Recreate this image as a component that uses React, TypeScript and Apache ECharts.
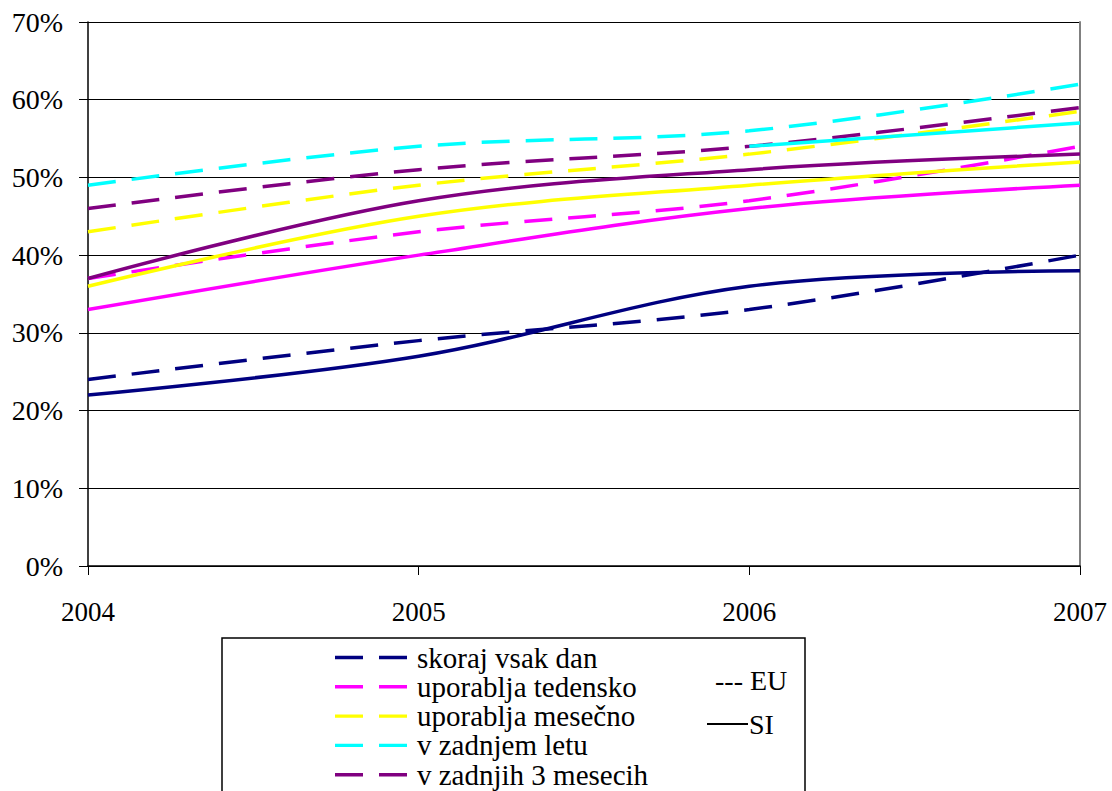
import React, { useEffect, useRef } from "react";
import * as echarts from "echarts";

const years = [2004, 2005, 2006, 2007];
const categoryNames = [
  "skoraj vsak dan",
  "uporablja tedensko",
  "uporablja mesečno",
  "v zadnjem letu",
  "v zadnjih 3 mesecih",
];
const colors = ["#000080", "#FF00FF", "#FFFF00", "#00FFFF", "#800080"];

// EU (dashed)
const euDaily = [24, 29, 33, 40];
const euWeekly = [37, 43, 47, 54];
const euMonthly = [43, 49, 53, 58.5];
const euLastYear = [49, 54, 56, 62];
const euLast3Months = [46, 51, 54, 59];

// SI (solid)
const siDaily = [22, 27, 36, 38];
const siWeekly = [33, 40, 46, 49];
const siMonthly = [36, 45, 49, 52];
const siLastYear: (number | null)[] = [null, null, 54, 57];
const siLast3Months = [37, 47, 51, 53];

const yMin = 0;
const yMax = 70;
const yStep = 10;

const euValues = [euDaily, euWeekly, euMonthly, euLastYear, euLast3Months];
const siValues = [siDaily, siWeekly, siMonthly, siLastYear, siLast3Months];

const FONT = "Liberation Serif";
const DASHED_ICON = "path://M0,0h28v3.4h-28zM44,0h28v3.4h-28z";
const SOLID_ICON = "path://M0,0h72v3.4h-72z";

function toPairs(vals: (number | null)[]) {
  const out: [number, number][] = [];
  vals.forEach((v, i) => {
    if (v !== null && v !== undefined) out.push([years[i], v]);
  });
  return out;
}

export default function App() {
  const ref = useRef<HTMLDivElement>(null);
  useEffect(() => {
    if (!ref.current) return;
    const chart = echarts.init(ref.current, null, { renderer: "svg" });
    const euSeries = categoryNames.map((n, i) => ({
      name: n,
      type: "line",
      data: toPairs(euValues[i]),
      smooth: 0.35,
      symbol: "none",
      color: colors[i],
      lineStyle: { color: colors[i], width: 3.5, type: [28, 16] },
      z: 2,
    }));
    const siSeries = categoryNames.map((n, i) => ({
      name: n + " (SI)",
      type: "line",
      data: toPairs(siValues[i]),
      smooth: 0.35,
      symbol: "none",
      color: colors[i],
      lineStyle: { color: colors[i], width: 3.5, type: "solid" },
      z: 3,
    }));
    chart.setOption({
      animation: false,
      backgroundColor: "#ffffff",
      textStyle: { fontFamily: FONT },
      grid: { left: 88, right: 32, top: 22, bottom: 225, containLabel: false },
      xAxis: {
        type: "value",
        min: years[0],
        max: years[years.length - 1],
        interval: 1,
        axisLine: { show: true, lineStyle: { color: "#000", width: 1.5 } },
        axisTick: { show: true, length: 9, lineStyle: { color: "#000", width: 1 } },
        splitLine: { show: false },
        axisLabel: {
          formatter: (v: number) => String(v),
          color: "#000",
          fontFamily: FONT,
          fontSize: 27,
          margin: 32,
        },
      },
      yAxis: [
        {
          type: "value",
          min: yMin,
          max: yMax,
          interval: yStep,
          axisLine: { show: true, lineStyle: { color: "#000", width: 1.5 } },
          axisTick: { show: true, length: 9, lineStyle: { color: "#000", width: 1 } },
          splitLine: { show: true, lineStyle: { color: "#000", width: 1 } },
          axisLabel: {
            formatter: "{value}%",
            color: "#000",
            fontFamily: FONT,
            fontSize: 28,
            margin: 25,
          },
        },
        {
          type: "value",
          min: yMin,
          max: yMax,
          interval: yStep,
          position: "right",
          axisLine: { show: true, lineStyle: { color: "#808080", width: 2 } },
          axisTick: { show: false },
          axisLabel: { show: false },
          splitLine: { show: false },
        },
      ],
      legend: {
        show: true,
        orient: "vertical",
        left: 335,
        top: 643,
        height: 800,
        padding: 0,
        itemWidth: 72,
        itemHeight: 28,
        itemGap: 0.3,
        selectedMode: false,
        z: 10,
        itemStyle: { borderWidth: 0 },
        data: [
          ...euSeries.map((s) => ({ name: s.name, icon: DASHED_ICON })),
          ...siSeries.map((s) => ({ name: s.name, icon: SOLID_ICON })),
        ],
        textStyle: {
          color: "#000",
          fontFamily: FONT,
          fontSize: 29,
          lineHeight: 28,
          padding: [0, 0, 0, 5],
        },
      },
      graphic: [
        {
          type: "rect",
          z: 0,
          shape: { x: 222, y: 638, width: 583, height: 300 },
          style: { fill: "#fff", stroke: "#000", lineWidth: 1.5 },
        },
        {
          type: "text",
          z: 11,
          x: 715,
          y: 680,
          style: { text: "--- EU", fontFamily: FONT, fontSize: 28, fill: "#000", verticalAlign: "middle" },
        },
        {
          type: "line",
          z: 11,
          shape: { x1: 707, y1: 724, x2: 748, y2: 724 },
          style: { stroke: "#000", lineWidth: 2 },
        },
        {
          type: "text",
          z: 11,
          x: 749,
          y: 724,
          style: { text: "SI", fontFamily: FONT, fontSize: 28, fill: "#000", verticalAlign: "middle" },
        },
      ],
      series: [...euSeries, ...siSeries],
    });
    return () => chart.dispose();
  }, []);
  return (
    <div
      ref={ref}
      style={{ position: "absolute", left: 0, top: 0, width: 1112, height: 791, background: "#fff" }}
    />
  );
}
